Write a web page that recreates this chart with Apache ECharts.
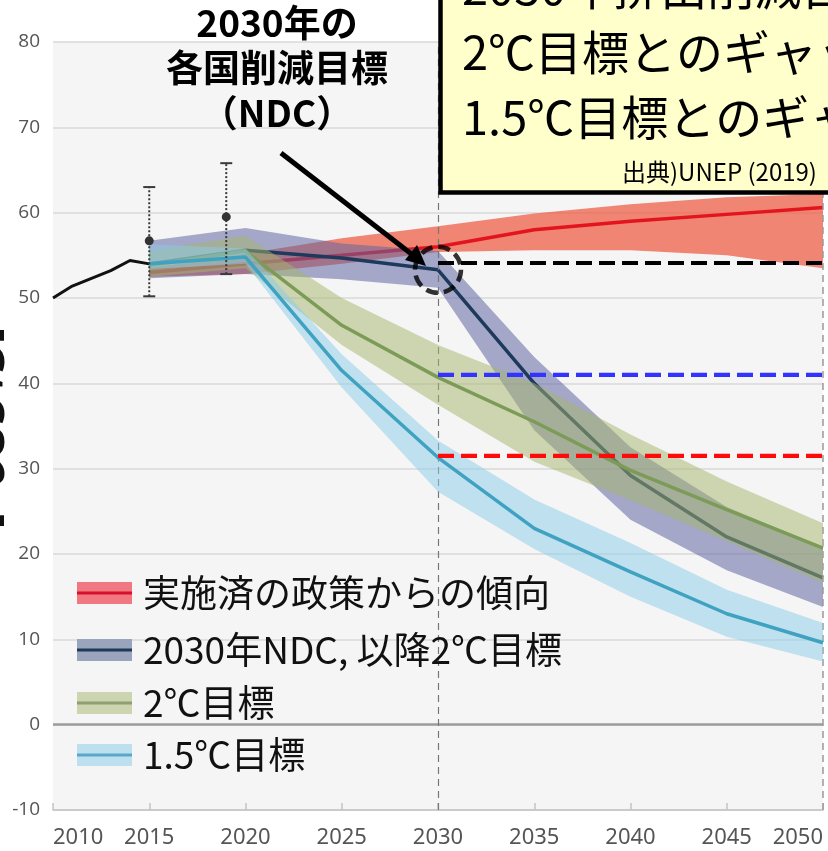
<!DOCTYPE html>
<html><head><meta charset="utf-8">
<script src="https://cdn.jsdelivr.net/npm/echarts@6/dist/echarts.min.js"></script>
<style>html,body{margin:0;padding:0;background:#fff}#chart{width:828px;height:851px}</style>
</head><body><div id="chart"></div>
<script>
// Historical emissions (GtCO2e)
const historyYears = [2010, 2011, 2012, 2013, 2014, 2015];
const historyValues = [50.0, 51.4, 52.3, 53.2, 54.4, 54.0];

// Estimate ranges with central value
const estimateYears = [2015, 2019];
const estimateLow = [50.2, 52.8];
const estimateMid = [56.7, 59.5];
const estimateHigh = [63.0, 65.8];

// Scenario pathways: median and range
const scenarioYears = [2015, 2020, 2025, 2030, 2035, 2040, 2045, 2050];
const currentPolicyMid  = [53.0, 54.0, 55.0, 56.0, 58.0, 59.0, 59.8, 60.6];
const currentPolicyLow  = [52.5, 52.8, 54.0, 55.4, 55.6, 55.6, 55.0, 53.5];
const currentPolicyHigh = [53.5, 55.2, 57.0, 58.4, 59.9, 61.0, 61.8, 62.2];
const ndcMid  = [54.0, 55.6, 54.7, 53.3, 40.0, 29.2, 22.0, 17.2];
const ndcLow  = [52.3, 52.8, 52.2, 51.2, 34.5, 24.0, 18.1, 13.8];
const ndcHigh = [56.7, 58.2, 56.4, 55.5, 43.1, 32.5, 25.5, 20.8];
const twoDegMid  = [53.8, 55.5, 46.8, 40.7, 35.5, 29.8, 25.2, 20.7];
const twoDegLow  = [52.5, 53.5, 44.5, 37.5, 30.8, 26.3, 21.5, 16.6];
const twoDegHigh = [55.5, 57.3, 50.0, 44.5, 40.0, 34.0, 28.5, 23.6];
const onePointFiveMid  = [54.0, 54.8, 41.5, 31.3, 23.0, 17.9, 13.0, 9.6];
const onePointFiveLow  = [53.4, 54.0, 39.5, 27.3, 20.6, 15.0, 10.3, 7.4];
const onePointFiveHigh = [56.3, 55.8, 43.4, 33.3, 26.4, 21.3, 15.8, 11.9];

// 2030 levels: NDC, 2°C and 1.5°C pathways
const gapYear = 2030;
const gapLevels = [54.1, 41.0, 31.5];
const gapColors = ['#000000', '#3333ff', '#ff0a0a'];

const xTicks = [2010, 2015, 2020, 2025, 2030, 2035, 2040, 2045, 2050];

const yAxisTitle = '[GtCO2e]';
const legendLabels = ['実施済の政策からの傾向', '2030年NDC, 以降2℃目標', '2℃目標', '1.5℃目標'];

const scenarios = [
  { mid: currentPolicyMid, low: currentPolicyLow, high: currentPolicyHigh,
    band: 'rgba(236,95,69,0.75)', line: '#e3141e', swatch: '#f07880', swLine: '#d8102a' },
  { mid: ndcMid, low: ndcLow, high: ndcHigh,
    band: 'rgba(96,102,160,0.55)', line: '#1d3a5c', swatch: '#9ba4bd', swLine: '#1c3a5a' },
  { mid: twoDegMid, low: twoDegLow, high: twoDegHigh,
    band: 'rgba(166,182,108,0.5)', line: '#7c9b57', swatch: '#cdd5b0', swLine: '#8ea070' },
  { mid: onePointFiveMid, low: onePointFiveLow, high: onePointFiveHigh,
    band: 'rgba(138,204,232,0.5)', line: '#3fa2c0', swatch: '#bde0f0', swLine: '#5aa8c8' }
];

const pairs = (xs, ys) => xs.map((x, i) => [x, ys[i]]);

const series = [];
scenarios.forEach((s, idx) => {
  // range band: one polygon through the upper and lower bounds
  series.push({
    type: 'custom', silent: true, z: 1 + idx * 2,
    data: scenarioYears.map((x, i) => [x, s.low[i], s.high[i]]),
    encode: { x: 0, y: [1, 2] },
    renderItem: (params, api) => {
      if (params.dataIndex !== 0) return null;
      const upper = scenarioYears.map((x, i) => api.coord([x, s.high[i]]));
      const lower = scenarioYears.map((x, i) => api.coord([x, s.low[i]])).reverse();
      return { type: 'polygon', shape: { points: upper.concat(lower) }, style: { fill: s.band } };
    }
  });
  // median pathway
  series.push({
    type: 'line', data: pairs(scenarioYears, s.mid), z: 2 + idx * 2,
    symbol: 'none', lineStyle: { color: s.line, width: 3.5 }, silent: true
  });
});

// historical line
series.push({
  type: 'line', data: pairs(historyYears, historyValues), symbol: 'none',
  lineStyle: { color: '#111', width: 3 }, z: 10
});

// zero line and 2030 / 2050 guides
series.push({
  type: 'line', data: [], silent: true, z: 11,
  markLine: {
    silent: true, symbol: 'none', animation: false,
    label: { show: false },
    data: [
      { yAxis: 0, lineStyle: { color: '#9c9c9c', width: 2.5, type: 'solid' } },
      { xAxis: 2030, lineStyle: { color: '#777', width: 1.2, type: [7, 5] } },
      { xAxis: 2050, lineStyle: { color: '#999', width: 1.5, type: [7, 5] } }
    ]
  }
});

// 2030 levels, drawn from 2030 to the right edge
series.push({
  type: 'custom', z: 12, silent: true,
  data: gapLevels.map((v, i) => [gapYear, v, i]),
  encode: { x: 0, y: 1 },
  renderItem: (params, api) => {
    const p = api.coord([api.value(0), api.value(1)]);
    const cs = params.coordSys;
    return { type: 'line', shape: { x1: p[0], y1: p[1], x2: cs.x + cs.width + 8, y2: p[1] },
      style: { stroke: gapColors[api.value(2)], lineWidth: 4.2, lineDash: [16, 7] } };
  }
});

// estimate ranges (dotted whiskers)
series.push({
  type: 'custom', z: 13, silent: true,
  data: estimateYears.map((x, i) => [x, estimateLow[i], estimateMid[i], estimateHigh[i]]),
  encode: { x: 0, y: [1, 2, 3] },
  renderItem: (params, api) => {
    const x = api.value(0);
    const lo = api.coord([x, api.value(1)]);
    const mid = api.coord([x, api.value(2)]);
    const hi = api.coord([x, api.value(3)]);
    const st = { stroke: '#3a3a3a', lineWidth: 2 };
    return { type: 'group', children: [
      { type: 'line', shape: { x1: lo[0], y1: lo[1], x2: hi[0], y2: hi[1] }, style: { stroke: '#3a3a3a', lineWidth: 2, lineDash: [2, 2] } },
      { type: 'line', shape: { x1: lo[0] - 6, y1: lo[1], x2: lo[0] + 6, y2: lo[1] }, style: st },
      { type: 'line', shape: { x1: hi[0] - 6, y1: hi[1], x2: hi[0] + 6, y2: hi[1] }, style: st },
      { type: 'circle', shape: { cx: mid[0], cy: mid[1], r: 4.5 }, style: { fill: '#333' } }
    ]};
  }
});

// dashed ring around the 2030 NDC point
series.push({
  type: 'scatter', z: 14, silent: true,
  data: [[gapYear, ndcMid[scenarioYears.indexOf(gapYear)]]],
  symbol: 'circle', symbolSize: 46,
  itemStyle: { color: 'rgba(0,0,0,0)', borderColor: '#000', borderWidth: 4.5, borderType: [12, 6] }
});

const legendRows = [593, 650, 703, 755];
const legendGraphics = [];
scenarios.forEach((s, i) => {
  const y = legendRows[i];
  legendGraphics.push(
    { type: 'rect', shape: { x: 77, y: y - 11, width: 55, height: 22 }, style: { fill: s.swatch }, z: 50 },
    { type: 'line', shape: { x1: 77, y1: y, x2: 132, y2: y }, style: { stroke: s.swLine, lineWidth: 3 }, z: 51 },
    { type: 'text', x: 143, y: y, z: 51, style: { text: legendLabels[i], fill: '#111', font: '37px "Noto Sans CJK JP"', textVerticalAlign: 'middle' } }
  );
});

const chart = echarts.init(document.getElementById('chart'), null, { renderer: 'canvas' });
chart.setOption({
  animation: false,
  backgroundColor: '#ffffff',
  grid: { left: 53, right: 5, top: 42, bottom: 41, show: true, backgroundColor: '#f5f5f5', borderWidth: 0,
    containLabel: false, outerBoundsMode: 'none' },
  xAxis: {
    type: 'value', min: 2010, max: 2050, interval: 5,
    axisLine: { show: true, onZero: false, lineStyle: { color: '#c4c4c4', width: 1.5 } },
    axisTick: { show: true, inside: true, length: 7, lineStyle: { color: '#c4c4c4', width: 1.5 } },
    splitLine: { show: false },
    axisLabel: { color: '#555', fontSize: 22, fontFamily: '"Noto Sans"', margin: 17,
      alignMinLabel: 'left', alignMaxLabel: 'right',
      formatter: v => xTicks.includes(v) ? String(v) : '' }
  },
  yAxis: {
    type: 'value', min: -10, max: 80, interval: 10,
    axisLine: { show: false }, axisTick: { show: false },
    splitLine: { lineStyle: { color: '#d8d8d8', width: 1.5 } },
    axisLabel: { color: '#555', fontSize: 19, fontFamily: '"Open Sans"', margin: 13 }
  },
  series: series,
  graphic: [
    // vertical axis title, reading top to bottom along the left edge
    { type: 'text', x: -16, y: 428, rotation: -Math.PI / 2, z: 30, style: {
        text: yAxisTitle, fill: '#111', textAlign: 'center', textVerticalAlign: 'middle',
        font: 'bold 46px "Noto Sans"' } },
    // arrow pointing at the 2030 NDC point
    { type: 'line', shape: { x1: 281, y1: 153, x2: 414, y2: 256 }, style: { stroke: '#000', lineWidth: 5 }, z: 40 },
    { type: 'polygon', shape: { points: [[426, 266], [405, 260], [417, 245]] }, style: { fill: '#000' }, z: 40 },
    { type: 'text', x: 277, y: 0, z: 40, style: {
        text: '2030年の\n各国削減目標\n（NDC）', fill: '#000', textAlign: 'center', lineHeight: 45,
        font: 'bold 37px "Noto Sans CJK JP"' } },
    // gap summary box
    { type: 'rect', shape: { x: 440.5, y: -120, width: 600, height: 312.5 },
      style: { fill: '#ffffcc', stroke: '#000', lineWidth: 4.5 }, z: 60 },
    { type: 'text', x: 462, y: -13, z: 61, style: { text: '2030年排出削減目標と', fill: '#000', font: '47px "Noto Sans CJK JP"', textVerticalAlign: 'middle' } },
    { type: 'text', x: 462, y: 52, z: 61, style: { text: '2℃目標とのギャップ', fill: '#000', font: '47px "Noto Sans CJK JP"', textVerticalAlign: 'middle' } },
    { type: 'text', x: 462, y: 117, z: 61, style: { text: '1.5℃目標とのギャップ', fill: '#000', font: '47px "Noto Sans CJK JP"', textVerticalAlign: 'middle' } },
    { type: 'text', x: 622, y: 172, z: 61, style: { text: '出典)UNEP (2019)', fill: '#000', font: '24px "Noto Sans CJK JP"', textVerticalAlign: 'middle' } }
  ].concat(legendGraphics)
});
</script>
</body></html>
